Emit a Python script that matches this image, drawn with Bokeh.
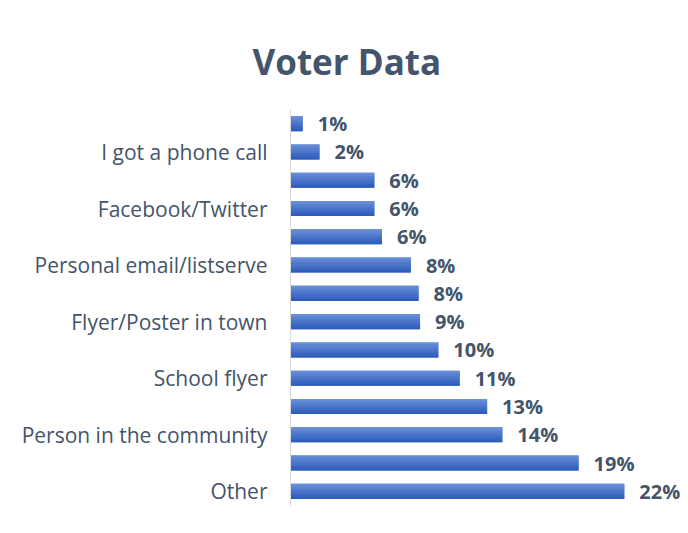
from bokeh.plotting import figure
from bokeh.models import FactorRange, Range1d, ColumnDataSource, Title
from bokeh.transform import dodge
from bokeh.core.properties import value
from bokeh.embed import file_html
from bokeh.resources import INLINE

# Categories listed top to bottom; unlabeled rows are hidden by label skipping in the original
categories = [" ", "I got a phone call", "  ", "Facebook/Twitter", "   ",
              "Personal email/listserve", "    ", "Flyer/Poster in town", "     ",
              "School flyer", "      ", "Person in the community", "       ", "Other"]
percents = [0.8, 1.9, 5.5, 5.5, 6.0, 7.9, 8.4, 8.5, 9.7, 11.1, 12.9, 13.9, 18.9, 21.9]
value_labels = ["1%", "2%", "6%", "6%", "6%", "8%", "8%", "9%", "10%", "11%",
                "13%", "14%", "19%", "22%"]
chart_title = "Voter Data"

TEXT = "#44546A"
source = ColumnDataSource(dict(cat=categories, pct=percents, lab=value_labels))

p = figure(width=684, height=530, output_backend="svg", toolbar_location=None,
           y_range=FactorRange(factors=list(reversed(categories))),
           x_range=Range1d(0, 25.85))
p.min_border_left = 290
p.min_border_right = 0
p.min_border_top = 109
p.min_border_bottom = 25
p.outline_line_color = None
p.background_fill_color = "white"
p.border_fill_color = "white"

# bars with a vertical gradient approximated by strips
h = 0.53
p.hbar(y="cat", right="pct", left=0, height=h, source=source,
       fill_color="#4472C4", line_color=None)
n = 8
top = (0x6A, 0x8F, 0xD9)
bot = (0x2D, 0x5C, 0xBC)
for i in range(n):
    t = i / (n - 1)
    col = "#%02x%02x%02x" % tuple(int(round(a + (b - a) * t)) for a, b in zip(top, bot))
    off = h / 2 - (i + 0.5) * h / n
    p.hbar(y=dodge("cat", off, range=p.y_range), right="pct", left=0,
           height=h / n * 1.05, source=source, fill_color=col, line_color=None)

p.text(x="pct", y="cat", text="lab", source=source, x_offset=15,
       text_baseline="middle", text_align="left",
       text_font=value("Open Sans"), text_font_style="bold",
       text_font_size="20px", text_color=TEXT)

p.xaxis.visible = False
p.xgrid.grid_line_color = None
p.ygrid.grid_line_color = None
yax = p.yaxis[0]
yax.axis_line_color = "#D9D9D9"
yax.axis_line_width = 1
yax.major_tick_line_color = None
yax.minor_tick_line_color = None
yax.major_label_text_font = "Open Sans"
yax.major_label_text_font_size = "21px"
yax.major_label_text_color = TEXT
yax.major_label_standoff = 17

title = Title(text=chart_title, align="left", offset=-38,
              text_font="Open Sans", text_font_style="bold",
              text_font_size="35px", text_color=TEXT, standoff=49)
p.add_layout(title, "above")

open("out.html", "w").write(file_html(p, INLINE))
